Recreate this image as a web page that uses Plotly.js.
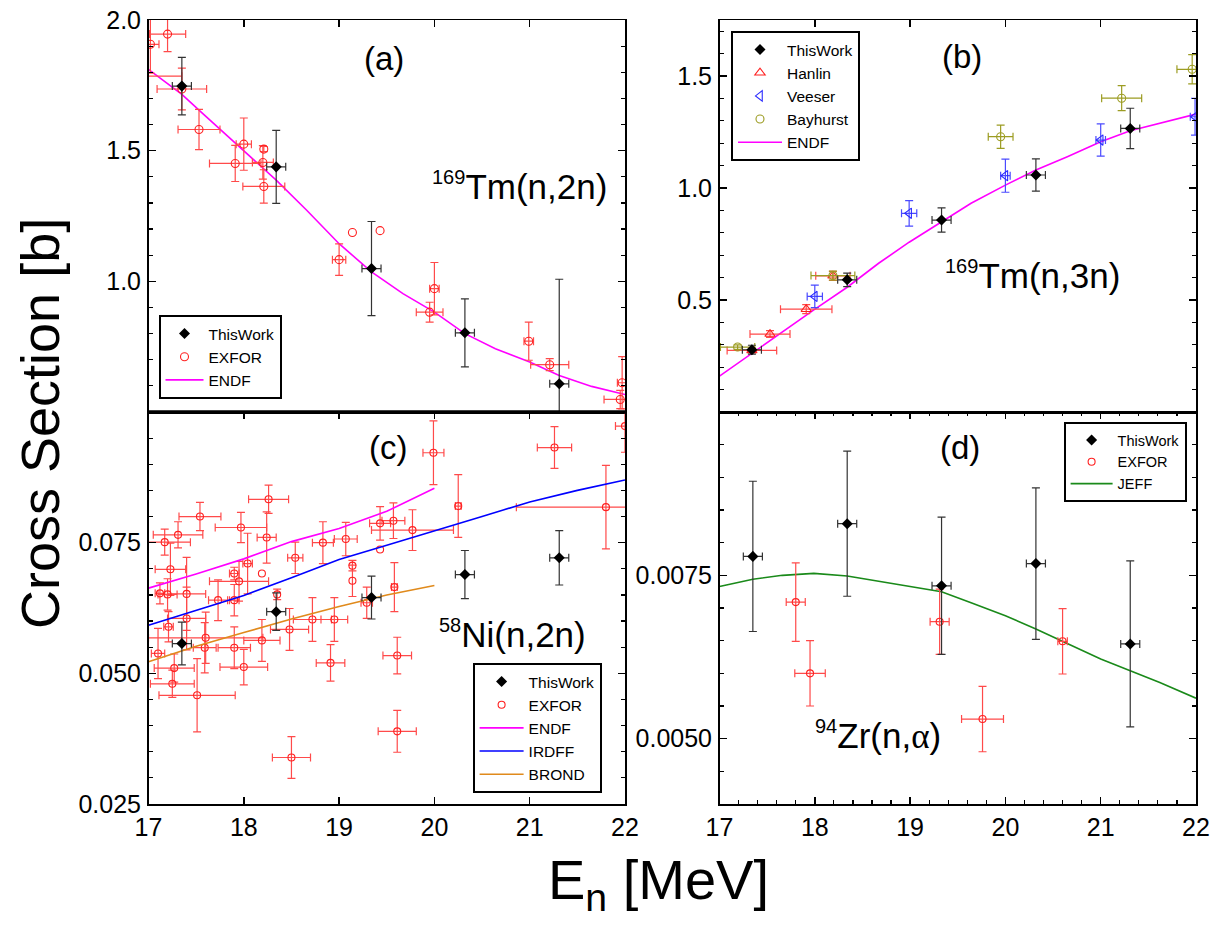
<!DOCTYPE html>
<html><head><meta charset="utf-8">
<script src="https://cdn.plot.ly/plotly-3.0.1.min.js"></script>
<style>html,body{margin:0;padding:0;background:#fff}#plot{width:1217px;height:926px}</style>
</head><body><div id="plot"></div>
<script>
// ---------------- DATA ----------------
// Panel (a) 169Tm(n,2n)
var a_tw_E  = [17.35, 18.34, 19.34, 20.32, 21.31];
var a_tw_y  = [1.747, 1.438, 1.049, 0.803, 0.608];
var a_tw_dx = [0.10, 0.10, 0.10, 0.10, 0.10];
var a_tw_dy = [0.11, 0.14, 0.18, 0.13, 0.40];

var a_ex_E  = [16.90, 17.02, 17.20, 17.35, 17.53, 17.91, 18.00, 18.20, 18.21, 18.21, 19.00, 19.14, 19.43, 19.95, 20.00, 20.99, 21.21, 21.95, 21.97];
var a_ex_y  = [1.785, 1.907, 1.946, 1.736, 1.581, 1.451, 1.525, 1.455, 1.506, 1.363, 1.083, 1.187, 1.194, 0.882, 0.972, 0.771, 0.681, 0.548, 0.612];
var a_ex_dx = [0.45, 0.09, 0.19, 0.26, 0.22, 0.27, 0.08, 0.11, NaN, 0.22, 0.07, NaN, NaN, 0.14, 0.05, 0.05, 0.20, 0.17, 0.05];
var a_ex_dy = [0.02, 0.11, 0.067, 0.08, 0.077, 0.069, 0.10, 0.064, 0.01, 0.064, 0.06, NaN, NaN, 0.038, 0.10, 0.073, 0.023, 0.035, 0.10];

var a_endf_E = [17.0, 17.35, 17.57, 18.0, 18.34, 18.66, 19.0, 19.34, 19.67, 20.0, 20.32, 20.64, 21.0, 21.31, 21.65, 22.0];
var a_endf_y = [1.811, 1.715, 1.642, 1.500, 1.387, 1.272, 1.144, 1.036, 0.953, 0.882, 0.800, 0.742, 0.691, 0.640, 0.598, 0.567];

// Panel (b) 169Tm(n,3n)
var b_tw_E  = [17.34, 18.34, 19.33, 20.32, 21.31];
var b_tw_y  = [0.278, 0.590, 0.857, 1.058, 1.266];
var b_tw_dx = [0.10, 0.10, 0.10, 0.10, 0.10];
var b_tw_dy = [0.02, 0.03, 0.054, 0.072, 0.09];

var b_han_E  = [17.34, 17.53, 17.91, 18.19];
var b_han_y  = [0.275, 0.348, 0.459, 0.608];
var b_han_dx = [0.26, 0.21, 0.27, 0.18];
var b_han_dy = [0.01, 0.015, 0.02, 0.02];

var b_vee_E  = [18.00, 18.99, 20.00, 21.00, 21.99];
var b_vee_y  = [0.516, 0.887, 1.055, 1.214, 1.318];
var b_vee_dx = [0.08, 0.08, 0.05, 0.05, 0.05];
var b_vee_dy = [0.05, 0.057, 0.074, 0.072, 0.082];

var b_bay_E  = [17.19, 18.19, 19.95, 21.22, 21.96];
var b_bay_y  = [0.290, 0.609, 1.229, 1.401, 1.530];
var b_bay_dx = [0.18, 0.23, 0.13, 0.21, 0.16];
var b_bay_dy = [0.01, 0.02, 0.052, 0.056, 0.065];

var b_endf_E = [17.0, 17.34, 17.99, 18.34, 18.67, 18.99, 19.33, 19.64, 20.0, 20.32, 20.65, 21.0, 21.31, 21.62, 22.0];
var b_endf_y = [0.160, 0.262, 0.456, 0.557, 0.664, 0.758, 0.850, 0.932, 1.013, 1.080, 1.140, 1.206, 1.256, 1.289, 1.330];

// Panel (c) 58Ni(n,2n)
var c_tw_E  = [17.35, 18.34, 19.34, 20.32, 21.31];
var c_tw_y  = [0.0557, 0.0618, 0.0645, 0.0689, 0.0721];
var c_tw_dx = [0.10, 0.10, 0.10, 0.10, 0.10];
var c_tw_dy = [0.0041, 0.0036, 0.0041, 0.0046, 0.0052];

var c_ex_E  = [18.26, 17.54, 17.31, 17.17, 17.97, 18.24, 17.23, 18.04, 17.90, 18.19, 17.95, 17.12, 17.20, 17.40, 17.73, 17.90, 18.54, 18.35, 17.21, 17.40, 17.10, 17.60, 17.59, 17.90, 17.27, 17.25, 17.51, 18.00, 18.19, 18.48, 18.50,
               19.99, 20.25, 19.43, 19.57, 19.77, 19.07, 18.83, 19.43, 19.14, 19.14, 19.58, 19.29, 18.72, 18.95, 18.91, 19.61, 19.61, 21.26, 22.00, 21.80];
var c_ex_y  = [0.0833, 0.0800, 0.0765, 0.0751, 0.0779, 0.0760, 0.0699, 0.0710, 0.0691, 0.0691, 0.0676, 0.0653, 0.0651, 0.0652, 0.0640, 0.0640, 0.0721, 0.0651, 0.0589, 0.0605, 0.0538, 0.0568, 0.0549, 0.0549, 0.0510, 0.0480, 0.0458, 0.0512, 0.0563, 0.0584, 0.0339,
               0.0922, 0.0820, 0.0787, 0.0792, 0.0774, 0.0757, 0.0750, 0.0737, 0.0706, 0.0677, 0.0665, 0.0635, 0.0603, 0.0603, 0.0520, 0.0534, 0.0389, 0.0932, 0.0973, 0.0818];
var c_ex_dx = [0.21, 0.22, 0.26, 0.27, 0.27, 0.10, 0.16, 0.05, 0.05, NaN, 0.31, 0.05, 0.10, 0.20, 0.10, 0.05, 0.08, NaN, 0.05, 0.20, 0.07, 0.60, 0.12, 0.17, 0.21, 0.23, 0.40, 0.25, 0.19, 0.20, 0.20,
               0.11, 0.03, 0.11, 0.12, 0.43, 0.12, 0.11, NaN, NaN, NaN, 0.03, 0.06, 0.20, 0.14, 0.15, 0.15, 0.20, 0.18, 0.10, 0.94];
var c_ex_dy = [0.0027, 0.0027, 0.0025, 0.0025, 0.0029, 0.0049, 0.0050, 0.0058, 0.0012, NaN, 0.0038, 0.0020, 0.0030, 0.0070, 0.0039, 0.0030, 0.0030, 0.0010, 0.0029, 0.0060, 0.0048, 0.0049, 0.0048, 0.0040, 0.0027, 0.0026, 0.0070, 0.0034, 0.0040, 0.0040, 0.0040,
               0.0061, 0.0060, 0.0032, 0.0034, 0.0039, 0.0032, 0.0040, NaN, 0.0010, 0.0030, 0.0047, 0.0030, 0.0042, 0.0042, 0.0035, 0.0035, 0.0040, 0.0040, 0.0050, 0.0080];

var c_endf_E  = [17.0, 17.5, 18.0, 18.5, 19.0, 19.5, 20.0];
var c_endf_y  = [0.0663, 0.0690, 0.0719, 0.0752, 0.0777, 0.0810, 0.0854];
var c_irdff_E = [17.0, 17.5, 18.0, 18.5, 19.0, 19.5, 20.0, 20.5, 21.0, 21.5, 22.0];
var c_irdff_y = [0.0592, 0.0620, 0.0649, 0.0683, 0.0718, 0.0745, 0.0772, 0.0800, 0.0828, 0.0850, 0.0870];
var c_brond_E = [17.0, 17.5, 18.0, 18.5, 19.0, 19.5, 20.0];
var c_brond_y = [0.0522, 0.0552, 0.0578, 0.0604, 0.0628, 0.0650, 0.0668];

// Panel (d) 94Zr(n,alpha)
var d_tw_E  = [17.35, 18.34, 19.33, 20.32, 21.31];
var d_tw_y  = [0.00779, 0.00829, 0.00734, 0.00768, 0.00645];
var d_tw_dx = [0.10, 0.10, 0.10, 0.10, 0.10];
var d_tw_dy = [0.00115, 0.00111, 0.00105, 0.00116, 0.00127];

var d_ex_E  = [17.80, 17.95, 19.31, 19.76, 20.60];
var d_ex_y  = [0.00709, 0.00600, 0.00679, 0.00530, 0.00649];
var d_ex_dx = [0.10, 0.16, 0.10, 0.22, 0.05];
var d_ex_dy = [0.0006, 0.0005, 0.0005, 0.0005, 0.0005];

var d_jeff_E = [17.0, 17.35, 17.66, 17.99, 18.34, 18.67, 18.99, 19.33, 19.64, 20.0, 20.32, 20.6, 21.0, 21.31, 21.62, 22.0];
var d_jeff_y = [0.00733, 0.00744, 0.00750, 0.00753, 0.00749, 0.00741, 0.00734, 0.00725, 0.00708, 0.00688, 0.00668, 0.00649, 0.00622, 0.00604, 0.00586, 0.00562];

// Axis tick labels
var xTicks = [17, 18, 19, 20, 21, 22];
var a_yTicks = [1.0, 1.5, 2.0],        a_yText = ['1.0', '1.5', '2.0'];
var b_yTicks = [0.5, 1.0, 1.5],        b_yText = ['0.5', '1.0', '1.5'];
var c_yTicks = [0.025, 0.050, 0.075],  c_yText = ['0.025', '0.050', '0.075'];
var d_yTicks = [0.0050, 0.0075],       d_yText = ['0.0050', '0.0075'];

// ---------------- STYLE / GEOMETRY ----------------
var W = 1217, H = 926;
function fx(p) { return p / W; }
function fy(p) { return 1 - p / H; }
var FONT = 'Liberation Sans, Arial, sans-serif';

function pts(name, x, y, dx, dy, xa, ya, leg, rank, m, ecol) {
  return {
    type: 'scatter', mode: 'markers', name: name, x: x, y: y,
    xaxis: xa, yaxis: ya, legend: leg, legendrank: rank,
    marker: m,
    error_x: {type: 'data', array: dx, visible: true, color: ecol, thickness: 1.2, width: 4},
    error_y: {type: 'data', array: dy, visible: true, color: ecol, thickness: 1.2, width: 4}
  };
}
function line(name, x, y, xa, ya, leg, rank, col) {
  return {type: 'scatter', mode: 'lines', name: name, x: x, y: y, xaxis: xa, yaxis: ya,
          legend: leg, legendrank: rank, line: {color: col, width: 1.6}};
}
var mTW = {symbol: 'diamond', size: 8.5, color: 'black'};
var mEX = {symbol: 'circle-open', size: 8, color: '#ff2020', line: {width: 1.1}};
var mEXs = {symbol: 'circle-open', size: 7, color: '#ff2020', line: {width: 1.1}};
var EB = '#333333', ER = '#ff4a4a';

var traces = [
  line('ENDF', a_endf_E, a_endf_y, 'x', 'y', 'legend', 3, '#ff00ff'),
  pts('EXFOR', a_ex_E, a_ex_y, a_ex_dx, a_ex_dy, 'x', 'y', 'legend', 2, mEX, ER),
  pts('ThisWork', a_tw_E, a_tw_y, a_tw_dx, a_tw_dy, 'x', 'y', 'legend', 1, mTW, EB),

  line('ENDF', b_endf_E, b_endf_y, 'x2', 'y2', 'legend2', 5, '#ff00ff'),
  pts('Hanlin', b_han_E, b_han_y, b_han_dx, b_han_dy, 'x2', 'y2', 'legend2', 2,
      {symbol: 'triangle-up-open', size: 9, color: '#ff2020', line: {width: 1.1}}, ER),
  pts('Veeser', b_vee_E, b_vee_y, b_vee_dx, b_vee_dy, 'x2', 'y2', 'legend2', 3,
      {symbol: 'triangle-left-open', size: 9, color: '#2a2aff', line: {width: 1.1}}, '#4a4aff'),
  pts('Bayhurst', b_bay_E, b_bay_y, b_bay_dx, b_bay_dy, 'x2', 'y2', 'legend2', 4,
      {symbol: 'circle-open', size: 8, color: '#9c9c22', line: {width: 1.1}}, '#9c9c22'),
  pts('ThisWork', b_tw_E, b_tw_y, b_tw_dx, b_tw_dy, 'x2', 'y2', 'legend2', 1, mTW, EB),

  pts('EXFOR', c_ex_E, c_ex_y, c_ex_dx, c_ex_dy, 'x3', 'y3', 'legend3', 2, mEXs, ER),
  line('ENDF', c_endf_E, c_endf_y, 'x3', 'y3', 'legend3', 3, '#ff00ff'),
  line('IRDFF', c_irdff_E, c_irdff_y, 'x3', 'y3', 'legend3', 4, '#0000ff'),
  line('BROND', c_brond_E, c_brond_y, 'x3', 'y3', 'legend3', 5, '#e08a1c'),
  pts('ThisWork', c_tw_E, c_tw_y, c_tw_dx, c_tw_dy, 'x3', 'y3', 'legend3', 1, mTW, EB),

  line('JEFF', d_jeff_E, d_jeff_y, 'x4', 'y4', 'legend4', 3, '#1a8a1a'),
  pts('EXFOR', d_ex_E, d_ex_y, d_ex_dx, d_ex_dy, 'x4', 'y4', 'legend4', 2, mEXs, ER),
  pts('ThisWork', d_tw_E, d_tw_y, d_tw_dx, d_tw_dy, 'x4', 'y4', 'legend4', 1, mTW, EB)
];

var Ld = [fx(148.5), fx(625)], Rd = [fx(719.5), fx(1196)];
var Td = [fy(412), fy(20)], Bd = [fy(804), fy(412)];
var tf = {family: FONT, size: 25, color: 'black'};
function ax(extra) {
  var o = {showline: true, linecolor: 'black', linewidth: 1.5, ticks: 'inside', ticklen: 7,
           tickwidth: 1.5, tickcolor: 'black', showgrid: false, zeroline: false,
           tickfont: tf, fixedrange: true};
  for (var k in extra) o[k] = extra[k];
  return o;
}
function minor(d) { return {dtick: d, ticklen: 4, tickwidth: 1.2, tickcolor: 'black', ticks: 'inside', showgrid: false}; }
function legendAt(x, y, anchor, size, iw) {
  return {x: fx(x), y: fy(y), xanchor: 'left', yanchor: anchor, bgcolor: 'white', bordercolor: 'black',
          borderwidth: 2, font: {family: FONT, size: size, color: 'black'}, tracegroupgap: 0, itemwidth: iw};
}
function ann(text, x, y, size, extra) {
  var o = {text: text, x: fx(x), y: fy(y), xref: 'paper', yref: 'paper', showarrow: false,
           xanchor: 'center', yanchor: 'middle', font: {family: FONT, size: size, color: 'black'}};
  for (var k in extra) o[k] = extra[k];
  return o;
}

var layout = {
  width: W, height: H, margin: {l: 0, r: 0, t: 0, b: 0},
  paper_bgcolor: 'white', plot_bgcolor: 'white', showlegend: true,
  xaxis:  ax({domain: Ld, anchor: 'y',  range: [17, 22], tickvals: xTicks, side: 'top', showticklabels: false, mirror: true}),
  yaxis:  ax({domain: Td, anchor: 'x',  range: [0.5, 2.0], tickvals: a_yTicks, ticktext: a_yText, minor: minor(0.1), mirror: 'allticks', ticklabelstandoff: 1}),
  xaxis2: ax({domain: Rd, anchor: 'y2', range: [17, 22], tickvals: xTicks, side: 'top', showticklabels: false, mirror: true}),
  yaxis2: ax({domain: Td, anchor: 'x2', range: [0, 1.75], tickvals: b_yTicks, ticktext: b_yText, minor: minor(0.1), mirror: 'allticks', ticklabelstandoff: 1}),
  xaxis3: ax({domain: Ld, anchor: 'y3', range: [17, 22], tickvals: xTicks, mirror: 'ticks'}),
  yaxis3: ax({domain: Bd, anchor: 'x3', range: [0.025, 0.1], tickvals: c_yTicks, ticktext: c_yText, minor: minor(0.005), mirror: 'allticks', ticklabelstandoff: 1}),
  xaxis4: ax({domain: Rd, anchor: 'y4', range: [17, 22], tickvals: xTicks, minor: minor(0.2), mirror: 'ticks'}),
  yaxis4: ax({domain: Bd, anchor: 'x4', range: [0.004, 0.010], tickvals: d_yTicks, ticktext: d_yText, minor: minor(0.0005), mirror: 'allticks', ticklabelstandoff: 1}),
  legend:  legendAt(158.5, 399, 'bottom', 15.5, 38),
  legend2: legendAt(731, 31, 'top', 15.5, 44),
  legend3: legendAt(472.6, 793, 'bottom', 15.5, 44),
  legend4: legendAt(1063.6, 422, 'top', 14.5, 42),
  shapes: [
    {type: 'line', xref: 'paper', yref: 'paper', x0: fx(148), x1: fx(625.5), y0: fy(412), y1: fy(412),
     line: {color: 'black', width: 3.5}}
  ],
  annotations: [
    ann('(a)', 384, 58, 33), ann('(b)', 962, 57, 33), ann('(c)', 388, 447, 33), ann('(d)', 960, 447, 33),
    ann('<sup><span style="font-size:20px">169</span></sup>Tm(n,2n)', 430, 186, 35, {xanchor: 'left'}),
    ann('<sup><span style="font-size:20px">169</span></sup>Tm(n,3n)', 943, 275, 35, {xanchor: 'left'}),
    ann('<sup><span style="font-size:20px">58</span></sup>Ni(n,2n)', 437, 634, 35, {xanchor: 'left'}),
    ann('<sup><span style="font-size:20px">94</span></sup>Zr(n,<span style="font-family:Liberation Serif">α</span>)', 813, 735, 35, {xanchor: 'left'}),
    ann('Cross Section [b]', 40, 424, 54, {textangle: -90}),
    ann('E<sub>n</sub> [MeV]', 658, 883, 56)
  ]
};

Plotly.newPlot('plot', traces, layout, {displayModeBar: false, staticPlot: true});
</script></body></html>
